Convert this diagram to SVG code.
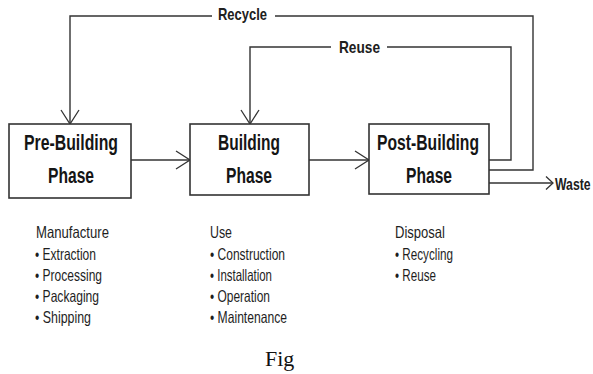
<svg xmlns="http://www.w3.org/2000/svg" width="593" height="374" viewBox="0 0 593 374">
  <style>
    .box { fill: #ffffff; stroke: #333333; stroke-width: 1.6; }
    .lbl { font-family: "Liberation Sans", Arial, sans-serif; font-weight: bold; font-size: 22.5px; fill: #151515; }
    .edge { font-family: "Liberation Sans", Arial, sans-serif; font-weight: bold; font-size: 17px; fill: #202020; }
    .list { font-family: "Liberation Sans", Arial, sans-serif; font-size: 16.5px; fill: #1e1e1e; }
    .fig { font-family: "Liberation Serif", "Times New Roman", serif; font-size: 22px; fill: #111111; }
    .conn { fill: none; stroke: #333333; stroke-width: 1.4; }
  </style>
  <defs>
    <marker id="arr" markerUnits="userSpaceOnUse" markerWidth="18" markerHeight="22" refX="15" refY="10" orient="auto">
      <path d="M1,1 L15,10 L1,19" fill="none" stroke="#333333" stroke-width="1.3"/>
    </marker>
    <marker id="arrSmall" markerUnits="userSpaceOnUse" markerWidth="10" markerHeight="16" refX="8" refY="7" orient="auto">
      <path d="M1,0.5 L8,7 L1,13.5" fill="none" stroke="#333333" stroke-width="1.3"/>
    </marker>
  </defs>
  <rect width="593" height="374" fill="#ffffff"/>

  <g id="connectors">
    <path class="conn" d="M131,160 H190" marker-end="url(#arr)"/>
    <path class="conn" d="M309,160 H369" marker-end="url(#arr)"/>
    <path class="conn" d="M489,170 H533 V16 H275 M212,16 H70 V124" marker-end="url(#arr)"/>
    <path class="conn" d="M489,160 H511 V47 H387 M331,47 H250 V124" marker-end="url(#arr)"/>
    <path class="conn" d="M489,183 H553" marker-end="url(#arrSmall)"/>
    <text class="edge" x="218" y="20" textLength="49" lengthAdjust="spacingAndGlyphs">Recycle</text>
    <text class="edge" x="339" y="53" textLength="41" lengthAdjust="spacingAndGlyphs">Reuse</text>
    <text class="edge" transform="translate(555,190) scale(0.72,1)" x="0" y="0" font-size="16">Waste</text>
  </g>

  <g id="pre-building">
    <rect class="box" x="9" y="124" width="122" height="74"/>
    <text class="lbl" x="24" y="150" textLength="94" lengthAdjust="spacingAndGlyphs">Pre-Building</text>
    <text class="lbl" x="48" y="183" textLength="46" lengthAdjust="spacingAndGlyphs">Phase</text>
  </g>

  <g id="building">
    <rect class="box" x="190" y="124" width="119" height="71"/>
    <text class="lbl" x="218" y="150" textLength="62" lengthAdjust="spacingAndGlyphs">Building</text>
    <text class="lbl" x="226" y="183" textLength="46" lengthAdjust="spacingAndGlyphs">Phase</text>
  </g>

  <g id="post-building">
    <rect class="box" x="369" y="124" width="120" height="70"/>
    <text class="lbl" x="377" y="150" textLength="102" lengthAdjust="spacingAndGlyphs">Post-Building</text>
    <text class="lbl" x="406" y="183" textLength="46" lengthAdjust="spacingAndGlyphs">Phase</text>
  </g>

  <g id="manufacture-list">
    <text class="list" x="36" y="238" textLength="73" lengthAdjust="spacingAndGlyphs">Manufacture</text>
    <text class="list" x="35" y="260" textLength="61" lengthAdjust="spacingAndGlyphs">• Extraction</text>
    <text class="list" x="35" y="281" textLength="67" lengthAdjust="spacingAndGlyphs">• Processing</text>
    <text class="list" x="35" y="302" textLength="64" lengthAdjust="spacingAndGlyphs">• Packaging</text>
    <text class="list" x="35" y="323" textLength="56" lengthAdjust="spacingAndGlyphs">• Shipping</text>
  </g>

  <g id="use-list">
    <text class="list" x="210" y="238" textLength="22" lengthAdjust="spacingAndGlyphs">Use</text>
    <text class="list" x="210" y="260" textLength="75" lengthAdjust="spacingAndGlyphs">• Construction</text>
    <text class="list" x="210" y="281" textLength="62" lengthAdjust="spacingAndGlyphs">• Installation</text>
    <text class="list" x="210" y="302" textLength="60" lengthAdjust="spacingAndGlyphs">• Operation</text>
    <text class="list" x="210" y="323" textLength="77" lengthAdjust="spacingAndGlyphs">• Maintenance</text>
  </g>

  <g id="disposal-list">
    <text class="list" x="395" y="238" textLength="50" lengthAdjust="spacingAndGlyphs">Disposal</text>
    <text class="list" x="395" y="260" textLength="58" lengthAdjust="spacingAndGlyphs">• Recycling</text>
    <text class="list" x="395" y="281" textLength="41" lengthAdjust="spacingAndGlyphs">• Reuse</text>
  </g>

  <text class="fig" x="265" y="366">Fig</text>
</svg>
